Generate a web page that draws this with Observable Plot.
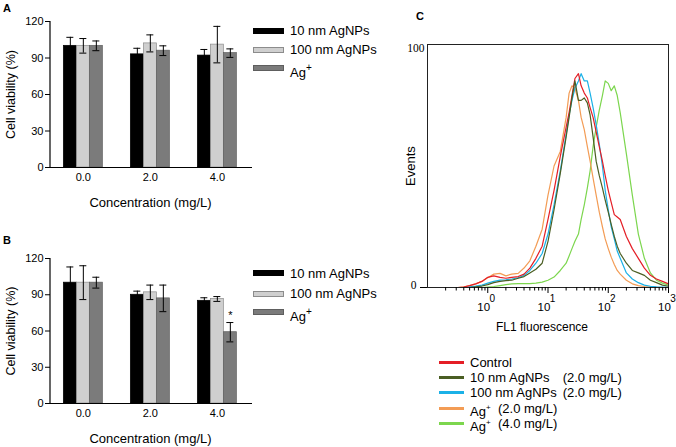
<!DOCTYPE html>
<html><head><meta charset="utf-8">
<script src="https://cdn.jsdelivr.net/npm/d3@7"></script>
<script src="https://cdn.jsdelivr.net/npm/@observablehq/plot@0.6"></script>
<style>
html,body{margin:0;padding:0;background:#fff;}
#root{position:relative;width:676px;height:447px;overflow:hidden;background:#fff;font-family:"Liberation Sans",Arial,sans-serif;color:#000;}
.letter{font-weight:bold;font-size:11px;line-height:11px;}
.leg{font-size:13px;line-height:13px;white-space:nowrap;}
.legc{font-size:13px;line-height:13px;white-space:nowrap;}
sup.big{font-size:10px;position:relative;top:-1px;}
sup.small{font-size:8px;position:relative;top:-1px;}
</style></head><body><div id="root"></div><script>
// ---------- data ----------
const concentrations = ["0.0", "2.0", "4.0"];
const barSeries = ["10 nm AgNPs", "100 nm AgNPs", "Ag+"];
const viabilityTicks = [0, 30, 60, 90, 120];
const viabilityA_10nm = [100, 93, 92];
const errorA_10nm = [7, 5, 5];
const viabilityA_100nm = [100, 102, 101];
const errorA_100nm = [6, 7, 15];
const viabilityA_Ag = [100, 96, 94];
const errorA_Ag = [4, 4, 3.5];
const viabilityB_10nm = [100, 90, 85];
const errorB_10nm = [13, 3, 2.5];
const viabilityB_100nm = [100, 92, 86.5];
const errorB_100nm = [14, 6, 2];
const viabilityB_Ag = [100, 87, 59];
const errorB_Ag = [4.5, 11, 8];
const significantB_Ag = ["4.0"];

const flGrid = [0.1,0.2,0.32,0.4,0.5,0.63,0.8,1,1.26,1.6,2,2.5,3.2,4,5,6.3,8,10,12.6,16,20,22.4,25,28,32,35.5,40,45,50,56,63,71,80,89,100,112,126,141,158,200,251,316,398,501,631,794,1000];
const eventsControl = [0,0,0,0.2,0.8, 1.5,2.5,4.2,4.8,4.2, 3.8,4.2,4.5,5.5,8, 12,17,28,40,54, 66,72,79,86,88, 83,80,78,74,70, 64,58,52,46,40, 35,30,29,28,21, 16,12,8,5,3.5, 2.5,1.5];
const events10nm = [0,0,0,0,0, 0.3,0.6,1.2,2,2.5, 2.8,3,3.8,4.5,6, 7.5,10,19,32,47, 62,70,78,85,77, 77,78,76,71,62, 52,46,41,36,31, 26,21,17,14,10, 7,6,5,3,2, 1,0.5];
const events100nm = [0,0,0,0,0.3, 0.6,1,1.8,2.5,3, 3.2,3.5,4,5,7, 10,14,22,34,48, 63,71,77,82,85, 88,85,85,80,74, 67,59,50,40,32, 25,20,15,12,6, 3.5,2,1,0.5,0.3, 0.2,0.1];
const eventsAg2 = [0,0,0,0.3,0.8, 1.5,2.5,4,5.5,5.8, 4.8,5.5,5.8,8,11, 17,24,38,50,56, 70,80,83,82,77, 70,65,58,52,45, 38,31,25,20,16, 12.5,9.5,7,5.5,3, 1.5,0.8,0.4,0.2,0.1, 0,0];
const eventsAg4 = [0,0,0,0,0, 0,0,0.2,0.4,0.8, 1.2,1.5,1.6,1.6,1.6, 1.8,2.2,3,4.3,7, 10,13,16,19,22, 28,34,41,48,58, 66,73,79,85,84, 81,83,79,72,55, 38,22,12,6,3, 1.8,1];
const flLegendNames = ["Control", "10 nm AgNPs", "100 nm AgNPs", "Ag+", "Ag+"];
const flLegendDoses = ["", "(2.0 mg/L)", "(2.0 mg/L)", "(2.0 mg/L)", "(4.0 mg/L)"];
const flMajorTicks = [1, 10, 100, 1000];
const flMajorExponents = ["0", "1", "2", "3"];
const eventsTickLabels = ["0", "100"];

// ---------- styles ----------
const barFill = ["#000000", "#cfcfcf", "#7b7b7b"];
const barStroke = ["#000000", "#8c8c8c", "#5e5e5e"];
const flColors = ["#e41e26", "#4a5e23", "#1bb1e7", "#f39c55", "#7cd64e"];
const FONT = "Liberation Sans, Arial, sans-serif";
const BW = 13;

const root = document.getElementById("root");
function place(node, left, top) {
  node.style.position = "absolute";
  node.style.left = left + "px";
  node.style.top = top + "px";
  root.appendChild(node);
  return node;
}
function html(str, left, top, cls) {
  const d = document.createElement("div");
  d.className = cls || "";
  d.innerHTML = str;
  return place(d, left, top);
}
function agLabel(name, cls) {
  return name === "Ag+" ? `Ag<sup class="${cls}">+</sup>` : name;
}

function barRows(values, errors) {
  return concentrations.map((c, i) => ({conc: c, value: values[i], err: errors[i]}));
}

function barPanel(sets, height, marginBottom, starConcs) {
  const marks = [];
  sets.forEach((rows, i) => {
    marks.push(Plot.barY(rows, {x: "conc", y: "value", fill: barFill[i], stroke: barStroke[i], strokeWidth: 0.7,
      insetLeft: BW * i, insetRight: BW * (2 - i)}));
  });
  sets.forEach((rows, i) => {
    const dx = BW * (i - 1);
    marks.push(Plot.ruleX(rows, {x: "conc", y1: d => d.value - d.err, y2: d => d.value + d.err, dx, stroke: "#000", strokeWidth: 1}));
    marks.push(Plot.tickY(rows, {x: "conc", y: d => d.value + d.err, insetLeft: BW * i + 3, insetRight: BW * (2 - i) + 3, stroke: "#000", strokeWidth: 1}));
    marks.push(Plot.tickY(rows, {x: "conc", y: d => d.value - d.err, insetLeft: BW * i + 3, insetRight: BW * (2 - i) + 3, stroke: "#000", strokeWidth: 1}));
  });
  if (starConcs) {
    const agRows = sets[2].filter(d => starConcs.includes(d.conc));
    marks.push(Plot.text(agRows, {x: "conc", y: d => d.value + d.err, text: () => "*", dx: BW, dy: -7, fontSize: 11}));
  }
  marks.push(Plot.ruleY([0], {stroke: "#000", strokeWidth: 1.2}));
  marks.push((index, scales, values, dim) => {
    const g = d3.create("svg:g");
    g.append("line").attr("x1", dim.marginLeft).attr("x2", dim.marginLeft)
      .attr("y1", dim.marginTop).attr("y2", dim.height - dim.marginBottom)
      .attr("stroke", "#000").attr("stroke-width", 1.2);
    return g.node();
  });
  marks.push(Plot.axisY({ticks: viabilityTicks, tickSize: 5, tickPadding: 2, fontSize: 11, label: null}));
  marks.push(Plot.axisX({tickSize: 0, tickPadding: 6, fontSize: 11, label: null}));
  marks.push(Plot.text(["Concentration (mg/L)"], {frameAnchor: "bottom", textAnchor: "middle", lineAnchor: "middle", dy: 35, dx: -1, fontSize: 13}));
  marks.push(Plot.text(["Cell viability (%)"], {frameAnchor: "left", textAnchor: "middle", lineAnchor: "middle", dx: -40, rotate: -90, fontSize: 12.5}));
  return Plot.plot({
    width: 262, height, marginLeft: 50, marginRight: 10, marginTop: 21, marginBottom,
    style: {fontFamily: FONT, background: "transparent", overflow: "visible", color: "#000"},
    x: {type: "band", domain: concentrations, paddingInner: 0.418, paddingOuter: 0.2164, align: 0.46, round: false, axis: null},
    y: {domain: [0, 120], axis: null},
    marks
  });
}

// Panel A
const plotA = barPanel([barRows(viabilityA_10nm, errorA_10nm), barRows(viabilityA_100nm, errorA_100nm), barRows(viabilityA_Ag, errorA_Ag)], 215, 48, null);
place(plotA, 0, 0);
// Panel B
const plotB = barPanel([barRows(viabilityB_10nm, errorB_10nm), barRows(viabilityB_100nm, errorB_100nm), barRows(viabilityB_Ag, errorB_Ag)], 210, 44, significantB_Ag);
place(plotB, 0, 237);

// legends A & B
function barLegend(centers) {
  barSeries.forEach((name, i) => {
    const sw = document.createElement("div");
    sw.style.width = "31px"; sw.style.height = "6px"; sw.style.boxSizing = "border-box";
    sw.style.background = barFill[i];
    sw.style.border = "1px solid " + barStroke[i];
    place(sw, 253, centers[i] - 3);
    html(agLabel(name, "big"), 290, centers[i] - 6.5, "leg");
  });
}
barLegend([30.5, 49.5, 68.3]);
barLegend([273.3, 293.5, 312]);

html("A", 3, 2.6, "letter");
html("B", 3, 235.3, "letter");
html("C", 416, 11.3, "letter");

// Panel C
const flSets = [eventsControl, events10nm, events100nm, eventsAg2, eventsAg4].map(vals => flGrid.map((fl, j) => ({fl, events: vals[j]})));
const drawOrder = [4, 3, 2, 0, 1];
const minorTicks = d3.range(-1, 3).flatMap(e => d3.range(2, 10).map(k => k * Math.pow(10, e)));
const plotC = Plot.plot({
  width: 286, height: 340, marginLeft: 37, marginRight: 8, marginTop: 44, marginBottom: 53,
  style: {fontFamily: FONT, background: "transparent", overflow: "visible", color: "#000"},
  x: {type: "log", domain: [0.1, 1000], axis: null},
  y: {domain: [0, 100], axis: null},
  marks: [
    ...drawOrder.map(i => Plot.line(flSets[i], {x: "fl", y: "events", stroke: flColors[i], strokeWidth: 1.2})),
    Plot.frame({stroke: "#222", strokeWidth: 1}),
    Plot.axisX({ticks: minorTicks, tickSize: 3.5, tickFormat: () => "", label: null}),
    Plot.axisX({ticks: flMajorTicks, tickSize: 6, tickFormat: () => "", label: null}),
    Plot.text(flMajorTicks, {x: d => d, frameAnchor: "bottom", lineAnchor: "middle", textAnchor: "middle", text: () => "10", dx: -4, dy: 20, fontSize: 11.5}),
    Plot.text(flMajorTicks, {x: d => d, frameAnchor: "bottom", lineAnchor: "middle", textAnchor: "middle", text: (d, i) => flMajorExponents[i], dx: 4.5, dy: 11, fontSize: 10}),
    Plot.axisY({ticks: [0], tickSize: 7, tickFormat: () => "", label: null}),
    Plot.text([0], {y: d => d, frameAnchor: "left", text: () => eventsTickLabels[0], textAnchor: "end", lineAnchor: "bottom", dx: -11, dy: 1, fontFamily: "Liberation Serif, serif", fontSize: 11.5}),
    Plot.text([100], {y: d => d, frameAnchor: "left", text: () => eventsTickLabels[1], textAnchor: "end", lineAnchor: "top", dx: -3, dy: -1, fontFamily: "Liberation Serif, serif", fontSize: 11.5}),
    Plot.text(["FL1 fluorescence"], {frameAnchor: "bottom", textAnchor: "middle", lineAnchor: "middle", dx: -6, dy: 40, fontSize: 12}),
    Plot.text(["Events"], {frameAnchor: "left", textAnchor: "middle", lineAnchor: "middle", dx: -17, rotate: -90, fontSize: 13})
  ]
});
place(plotC, 390, 0);

// legend C
const legCenters = [362, 377, 392.5, 408, 423.5];
flLegendNames.forEach((name, i) => {
  const sw = document.createElement("div");
  sw.style.width = "25px"; sw.style.height = "3px"; sw.style.background = flColors[i];
  place(sw, 439, legCenters[i] - 1.5);
  html(agLabel(name, "small"), 470, legCenters[i] - 6.5, "legc");
  if (flLegendDoses[i]) {
    const x = name === "Ag+" ? 498 : 562.7;
    html(flLegendDoses[i], x, legCenters[i] - 6.5, "legc");
  }
});
</script></body></html>
